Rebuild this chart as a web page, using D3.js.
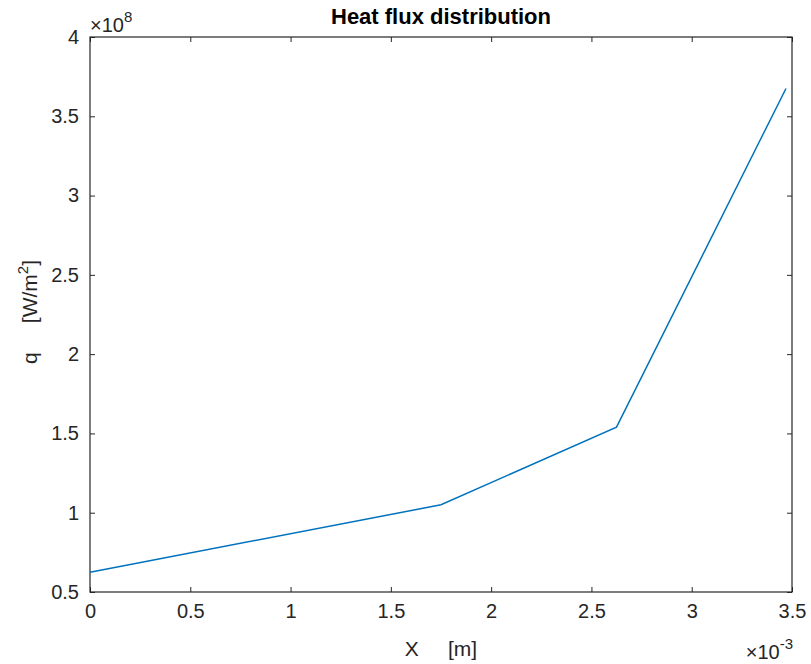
<!DOCTYPE html>
<html>
<head>
<meta charset="utf-8">
<script src="https://cdn.jsdelivr.net/npm/d3@7"></script>
<style>
  body { margin: 0; background: #fff; }
  text { font-family: "Liberation Sans", Arial, sans-serif; fill: #262626; }
</style>
</head>
<body>
<div id="chart"></div>
<script>
// data
const xValues = [0, 1.75e-3, 2.625e-3, 3.47e-3];
const qValues = [6.25e7, 1.05e8, 1.54e8, 3.675e8];
const xTicks = [0, 0.5, 1, 1.5, 2, 2.5, 3, 3.5];
const yTicks = [0.5, 1, 1.5, 2, 2.5, 3, 3.5, 4];

const W = 811, H = 664;
const margin = { top: 37, right: 19, bottom: 72, left: 90 };

const svg = d3.select("#chart").append("svg")
  .attr("width", W)
  .attr("height", H);

const x = d3.scaleLinear()
  .domain([0, 3.5e-3])
  .range([margin.left, W - margin.right]);

const y = d3.scaleLinear()
  .domain([0.5e8, 4e8])
  .range([H - margin.bottom, margin.top]);

const axisColor = "#262626";
const tickFont = 20;

function styleAxis(g) {
  g.select(".domain").remove();
  g.selectAll(".tick line").attr("stroke", axisColor);
  g.selectAll(".tick text").attr("font-size", tickFont).attr("fill", axisColor);
}

// bottom axis
svg.append("g")
  .attr("transform", `translate(0,${H - margin.bottom})`)
  .call(d3.axisBottom(x).tickValues(xTicks.map(d => d * 1e-3))
    .tickSizeInner(-5).tickSizeOuter(0).tickPadding(12)
    .tickFormat((d, i) => xTicks[i]))
  .call(styleAxis);

// top axis ticks
svg.append("g")
  .attr("transform", `translate(0,${margin.top})`)
  .call(d3.axisTop(x).tickValues(xTicks.map(d => d * 1e-3))
    .tickSizeInner(-5).tickSizeOuter(0).tickFormat(""))
  .call(styleAxis);

// left axis
svg.append("g")
  .attr("transform", `translate(${margin.left},0)`)
  .call(d3.axisLeft(y).tickValues(yTicks.map(d => d * 1e8))
    .tickSizeInner(-5).tickSizeOuter(0).tickPadding(11)
    .tickFormat((d, i) => yTicks[i]))
  .call(styleAxis);

// right axis ticks
svg.append("g")
  .attr("transform", `translate(${W - margin.right},0)`)
  .call(d3.axisRight(y).tickValues(yTicks.map(d => d * 1e8))
    .tickSizeInner(-5).tickSizeOuter(0).tickFormat(""))
  .call(styleAxis);

// box
svg.append("rect")
  .attr("x", margin.left)
  .attr("y", margin.top)
  .attr("width", W - margin.left - margin.right)
  .attr("height", H - margin.top - margin.bottom)
  .attr("fill", "none")
  .attr("stroke", axisColor)
  .attr("stroke-width", 1.2);

// line
const line = d3.line()
  .x((d, i) => x(xValues[i]))
  .y(d => y(d));

svg.append("path")
  .datum(qValues)
  .attr("d", line)
  .attr("fill", "none")
  .attr("stroke", "#0072BD")
  .attr("stroke-width", 1.5);

// title
svg.append("text")
  .attr("x", (margin.left + W - margin.right) / 2)
  .attr("y", 24)
  .attr("text-anchor", "middle")
  .attr("font-size", 22)
  .attr("font-weight", "bold")
  .style("fill", "#000")
  .text("Heat flux distribution");

// x label
svg.append("text")
  .attr("x", 441)
  .attr("y", 656)
  .attr("text-anchor", "middle")
  .attr("font-size", 21)
  .attr("xml:space", "preserve")
  .style("white-space", "pre")
  .text("X     [m]");

// y label
svg.append("text")
  .attr("transform", `translate(37,312) rotate(-90)`)
  .attr("text-anchor", "middle")
  .attr("font-size", 21)
  .attr("xml:space", "preserve")
  .style("white-space", "pre")
  .call(t => {
    t.append("tspan").text("q     [W/m");
    t.append("tspan").attr("dy", -9).attr("font-size", 15).text("2");
    t.append("tspan").attr("dy", 9).text("]");
  });

// exponent labels
svg.append("text")
  .attr("x", 90)
  .attr("y", 32)
  .attr("font-size", 20)
  .call(t => {
    t.append("tspan").text("\u00d710");
    t.append("tspan").attr("dy", -10).attr("font-size", 15).text("8");
  });

svg.append("text")
  .attr("x", 793)
  .attr("y", 659)
  .attr("text-anchor", "end")
  .attr("font-size", 20)
  .call(t => {
    t.append("tspan").text("\u00d710");
    t.append("tspan").attr("dy", -10).attr("font-size", 15).text("-3");
  });
</script>
</body>
</html>
